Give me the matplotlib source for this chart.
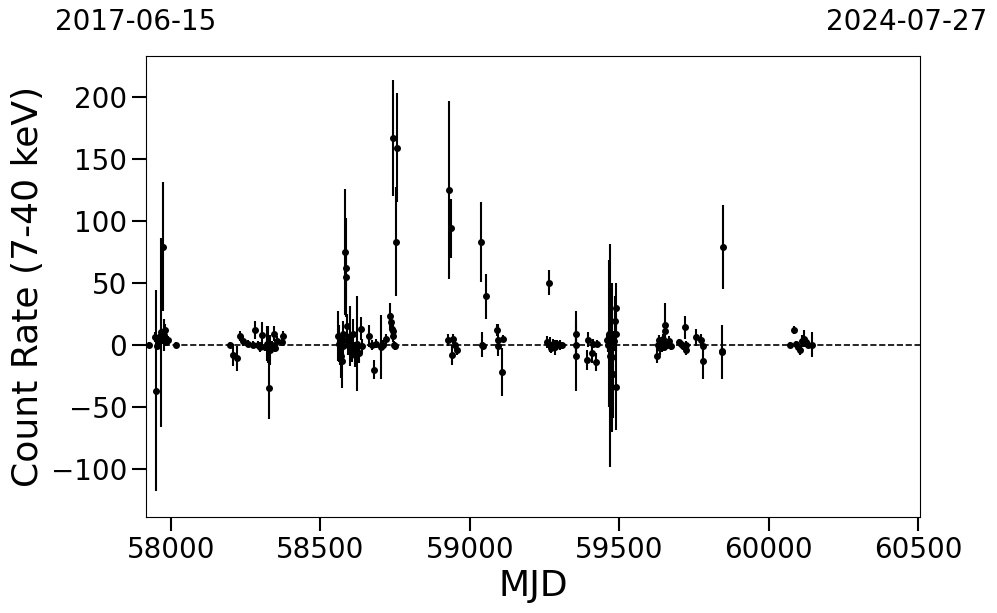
import numpy as np
import matplotlib
matplotlib.use("Agg")
import matplotlib.pyplot as plt

# light curve points: MJD, count rate (7-40 keV), 1-sigma error
mjd = [
    57926, 57946, 57950, 57953, 57960, 57967, 57972, 57974, 57977, 57980, 57983, 57990, 58017,
    58197, 58208, 58220, 58231, 58241, 58258, 58274, 58281, 58291, 58298, 58305, 58315,
    58321, 58325, 58328, 58331, 58338, 58345, 58348, 58355, 58372, 58375,
    58559, 58562, 58566, 58568, 58571, 58575, 58577, 58579, 58582, 58586, 58587, 58588,
    58593, 58599, 58605, 58610, 58616, 58623, 58629, 58635, 58638, 58663, 58672, 58679,
    58686, 58703, 58710, 58719, 58733, 58736, 58739, 58742, 58743, 58744, 58746, 58750,
    58752, 58755,
    58927, 58931, 58937, 58940, 58945, 58951, 58956,
    59038, 59040, 59044, 59054, 59091, 59093, 59094, 59108, 59111,
    59258, 59265, 59267, 59272, 59279, 59285, 59292, 59302, 59309,
    59355, 59356, 59357,
    59392, 59396, 59408, 59412, 59421, 59426,
    59459, 59463, 59466, 59469, 59473, 59476, 59479, 59483, 59486, 59488, 59489, 59490,
    59627, 59630, 59633, 59637, 59640, 59643, 59647, 59650, 59653, 59655, 59660, 59667, 59673,
    59700, 59707, 59713, 59720, 59722, 59724,
    59757, 59774, 59781, 59782,
    59843, 59844, 59848,
    60072, 60085, 60092, 60098, 60105, 60112, 60119, 60125, 60132, 60144,
]
rate = [
    0, 6, -37, -1, 5, 10, 79, 4, 8, 12, 2, 4, 0,
    0, -8, -11, 7, 3, 1, 0, 12, 0, -2, 8, -2,
    1, 0, -35, -4, 0, 9, -3, 3, 2, 7,
    7, 1, -4, -9, -13, 9, -1, 4, 75, 62, 55, 15,
    0, 7, -4, 9, -8, 1, -7, 13, -1, 7, 0, -20,
    1, -2, 0, 5, 23, 18, 13, 11, 167, 7, 0, -1,
    83, 159,
    4, 125, 94, -8, 5, 0, -4,
    83, 0, -1, 39, 12, 4, -1, -22, 5,
    2, 50, 0, -3, 1, -2, 1, 0, 0,
    9, 0, -9,
    -12, 4, -7, 1, -14, 1,
    4, 0, 9, -9, 0, -10, -24, 3, 19, -34, 30, 9,
    -9, 0, 4, -3, 2, 0, 5, -2, 16, 11, 0, 3, -1,
    2, 1, -1, 14, -4, 0,
    6, 4, -1, -13,
    -6, -5, 79,
    0, 12, 1, -2, -4, 3, 5, 2, 0, 0,
]
err = [
    2, 4, 81, 3, 4, 76, 52, 3, 13, 5, 3, 3, 2,
    2, 9, 10, 4, 4, 3, 3, 7, 3, 4, 10, 3,
    14, 15, 25, 12, 3, 6, 3, 4, 3, 4,
    20, 15, 12, 18, 22, 10, 8, 6, 51, 40, 20, 10,
    8, 24, 10, 12, 10, 38, 8, 9, 6, 9, 4, 8,
    4, 26, 4, 4, 11, 8, 6, 6, 47, 5, 3, 3,
    44, 44,
    5, 72, 24, 8, 4, 4, 4,
    32, 10, 3, 18, 5, 13, 3, 19, 3,
    5, 10, 6, 4, 4, 6, 3, 4, 2,
    18, 12, 28,
    8, 6, 8, 4, 7, 3,
    5, 6, 59, 90, 20, 60, 35, 8, 20, 35, 20, 15,
    6, 5, 4, 5, 3, 6, 4, 3, 18, 5, 3, 4, 3,
    3, 2, 3, 9, 4, 3,
    7, 5, 4, 15,
    22, 3, 34,
    2, 3, 2, 3, 4, 5, 7, 4, 3, 10,
]

start_label = "2017-06-15"
end_label = "2024-07-27"

fig = plt.figure(figsize=(9.97, 6.13), dpi=100)
ax = fig.add_axes([0.1464, 0.1566, 0.7764, 0.752])

ax.errorbar(mjd, rate, yerr=err, fmt='o', color='k', ms=4, elinewidth=1.5, capsize=0)
ax.axhline(0, color='k', ls='--', lw=1.2)

ax.set_xlim(57916, 60507)
ax.set_ylim(-139, 233)
ax.set_xticks([58000, 58500, 59000, 59500, 60000, 60500])
ax.set_yticks([-100, -50, 0, 50, 100, 150, 200])
ax.tick_params(axis='both', which='major', labelsize=20, length=10, width=1.5)
ax.set_xlabel("MJD", fontsize=26)
ax.set_ylabel("Count Rate (7-40 keV)", fontsize=26)

fig.text(136 / 997, 1 - 22 / 613, start_label, fontsize=20, ha='center', va='center')
fig.text(907 / 997, 1 - 22 / 613, end_label, fontsize=20, ha='center', va='center')

fig.savefig("out.png", dpi=100)
